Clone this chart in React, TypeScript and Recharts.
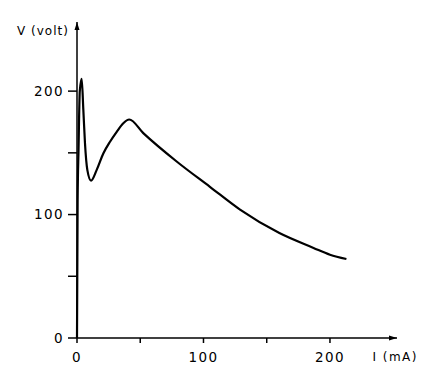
import { LineChart, Line, XAxis, YAxis, ReferenceDot } from "recharts";

// I (mA) vs V (volt)
const current = [0, 0.5, 1.2, 2.2, 3.7, 5, 6.3, 8.2, 11.1, 15.5, 20.8, 26.1, 31.4, 36.6, 41.3, 52.4, 78.8, 105.1, 128.9, 160, 187, 200, 213];
const voltage = [0, 112, 152, 200, 210, 185, 158, 136, 127.5, 136, 149.5, 159, 167, 174, 177, 166, 143, 122.5, 104, 85, 73, 67.5, 64];
const xTicks = [0, 50, 100, 150, 200];
const yTicks = [0, 50, 100, 150, 200];
const labeledTicks = [0, 100, 200];

const data = current.map((i, k) => ({ i, v: voltage[k] }));

const font = { fontFamily: "DejaVu Sans", fontSize: 13.5, fill: "#000", letterSpacing: 1.4 };
const fmt = (t: number) => (labeledTicks.includes(t) ? String(t) : "");

const ArrowUp = ({ cx, cy }: any) => (
  <polygon points={`${cx},${cy} ${cx - 2.5},${cy + 8} ${cx + 2.5},${cy + 8}`} fill="#000" />
);
const ArrowRight = ({ cx, cy }: any) => (
  <polygon points={`${cx},${cy} ${cx - 8},${cy - 2.5} ${cx - 8},${cy + 2.5}`} fill="#000" />
);

export default function App() {
  return (
    <div style={{ position: "absolute", left: 0, top: 0, background: "#fff" }}>
      <LineChart width={434} height={381} data={data} margin={{ top: 22, right: 37, bottom: 13, left: 0 }}>
        <XAxis
          dataKey="i"
          type="number"
          domain={[0, 253]}
          ticks={xTicks}
          tickFormatter={fmt}
          height={30}
          tickSize={5}
          tickMargin={9}
          tick={font}
          stroke="#000"
          strokeWidth={1.5}
          label={{
            content: ({ viewBox }: any) => (
              <text x={viewBox.x + viewBox.width + 21} y={viewBox.y + 23} textAnchor="end" {...font} fontSize={12} letterSpacing={1.5}>
                I (mA)
              </text>
            ),
          }}
        />
        <YAxis
          type="number"
          domain={[0, 256]}
          ticks={yTicks}
          tickFormatter={fmt}
          width={77}
          tickSize={9}
          tickMargin={4}
          tick={font}
          stroke="#000"
          strokeWidth={1.5}
          label={{
            content: ({ viewBox }: any) => (
              <text x={viewBox.x + 17} y={viewBox.y + 13} {...font} fontSize={12} letterSpacing={1}>
                V (volt)
              </text>
            ),
          }}
        />
        <ReferenceDot x={0} y={256} ifOverflow="visible" shape={ArrowUp} />
        <ReferenceDot x={253} y={0} ifOverflow="visible" shape={ArrowRight} />
        <Line
          type="monotone"
          dataKey="v"
          stroke="#000"
          strokeWidth={2.2}
          dot={false}
          isAnimationActive={false}
        />
      </LineChart>
    </div>
  );
}
